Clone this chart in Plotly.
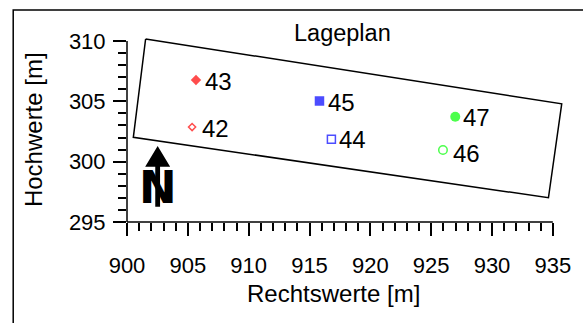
import plotly.graph_objects as go

# Measurement points (site plan coordinates in metres)
point_ids = ["42", "43", "44", "45", "46", "47"]
east = [905.35, 905.67, 916.8, 915.82, 925.97, 926.98]
north = [302.87, 306.77, 301.86, 305.03, 300.97, 303.73]

# Outline of the site (closed polygon)
site_east = [901.53, 935.73, 934.64, 900.52, 901.53]
site_north = [310.17, 304.80, 297.01, 302.02, 310.17]

# Axis ticks
x_ticks = [900, 905, 910, 915, 920, 925, 930, 935]
y_ticks = [295, 300, 305, 310]
x_minor = [v for v in range(900, 936) if v % 5 != 0]
y_minor = [v for v in range(295, 311) if v % 5 != 0]

# Marker style per point: symbol, colour, size, outline width, label x/y shift
style = {
    "42": ("diamond-open", "#FF0000", 5.5, 1.5, 8.0, -1),
    "43": ("diamond", "#FF0000", 8, 0, 7.2, -1),
    "44": ("square-open", "#0000FF", 8, 1.5, 6.0, -0.5),
    "45": ("square", "#0000FF", 9.5, 0, 6.2, -1.5),
    "46": ("circle-open", "#00FF00", 8.5, 1.5, 8.4, -4),
    "47": ("circle", "#00FF00", 10, 0, 6.0, -1),
}

FONT = "Arial, Liberation Sans, sans-serif"
tick_fs = 22
label_fs = 24
title_fs = 23.5

fig = go.Figure()

fig.add_trace(go.Scatter(
    x=site_east, y=site_north, mode="lines",
    line=dict(color="black", width=1.5),
    hoverinfo="skip", showlegend=False,
))

fig.add_trace(go.Scatter(
    x=east, y=north, mode="markers",
    marker=dict(
        symbol=[style[p][0] for p in point_ids],
        color=[style[p][1] for p in point_ids],
        size=[style[p][2] for p in point_ids],
        line=dict(color=[style[p][1] for p in point_ids],
                  width=[style[p][3] for p in point_ids]),
    ),
    text=point_ids, hoverinfo="text", showlegend=False, cliponaxis=False,
))

annotations = []
for p, ex, ny in zip(point_ids, east, north):
    annotations.append(dict(
        x=ex, y=ny, xref="x", yref="y", text=p, showarrow=False,
        xanchor="left", yanchor="middle",
        xshift=style[p][4], yshift=style[p][5],
        font=dict(family=FONT, size=label_fs, color="black"),
    ))

# Title and axis titles
annotations += [
    dict(x=917.7, y=1.009, xref="x", yref="paper", text="Lageplan",
         showarrow=False, xanchor="center", yanchor="middle",
         font=dict(family=FONT, size=title_fs, color="black")),
    dict(x=917.0, y=-0.381, xref="x", yref="paper", text="Rechtswerte [m]",
         showarrow=False, xanchor="center", yanchor="middle",
         font=dict(family=FONT, size=label_fs, color="black")),
    dict(x=-0.215, y=0.496, xref="paper", yref="paper", text="Hochwerte [m]",
         showarrow=False, xanchor="center", yanchor="middle", textangle=-90,
         font=dict(family=FONT, size=label_fs, color="black")),
    # North symbol letter
    dict(x=902.52, y=297.84, xref="x", yref="y", text="<b>N</b>",
         showarrow=False, xanchor="center", yanchor="middle",
         font=dict(family="DejaVu Sans", size=45, color="black")),
]

shapes = [
    # outer frame
    dict(type="rect", xref="paper", yref="paper",
         x0=-0.2598, x1=1.06, y0=-0.6, y1=1.1337,
         line=dict(color="black", width=1.5), fillcolor="rgba(0,0,0,0)",
         layer="below"),
    # axis lines spanning the tick range only
    dict(type="line", xref="x", yref="paper", x0=900, x1=935, y0=0, y1=0,
         line=dict(color="black", width=1.5)),
    dict(type="line", xref="paper", yref="y", x0=0, x1=0, y0=295, y1=310,
         line=dict(color="black", width=1.5)),
    # north arrow
    dict(type="path", xref="x", yref="y",
         xsizemode="pixel", ysizemode="pixel",
         xanchor=902.52, yanchor=301.30,
         path="M0,0 L12.5,-20.7 L2.4,-20.7 L2.4,-60.7 L-2.4,-60.7 L-2.4,-20.7 L-12.5,-20.7 Z",
         fillcolor="black", line=dict(color="black", width=0)),
]

tick_common = dict(
    showgrid=False, zeroline=False, showline=False,
    ticks="outside", ticklen=13, tickwidth=1.5, tickcolor="black",
    tickfont=dict(family=FONT, size=tick_fs, color="black"),
)

fig.update_xaxes(
    range=[900, 936], tickmode="array", tickvals=x_ticks,
    ticktext=[str(v) for v in x_ticks], ticklabelstandoff=11,
    minor=dict(tickmode="array", tickvals=x_minor, ticks="outside",
               ticklen=8, tickwidth=1.5, tickcolor="black", showgrid=False),
    **tick_common,
)
fig.update_yaxes(
    range=[295, 310.5], tickmode="array", tickvals=y_ticks,
    ticktext=[str(v) for v in y_ticks], ticklabelstandoff=3,
    minor=dict(tickmode="array", tickvals=y_minor, ticks="outside",
               ticklen=8, tickwidth=1.5, tickcolor="black", showgrid=False),
    **tick_common,
)

fig.update_layout(
    width=583, height=323, autosize=False,
    margin=dict(l=127, r=16, t=35, b=101, pad=0),
    paper_bgcolor="white", plot_bgcolor="white",
    annotations=annotations, shapes=shapes,
    font=dict(family=FONT, size=tick_fs, color="black"),
)

fig.write_html("out.html", config={"displayModeBar": False})
